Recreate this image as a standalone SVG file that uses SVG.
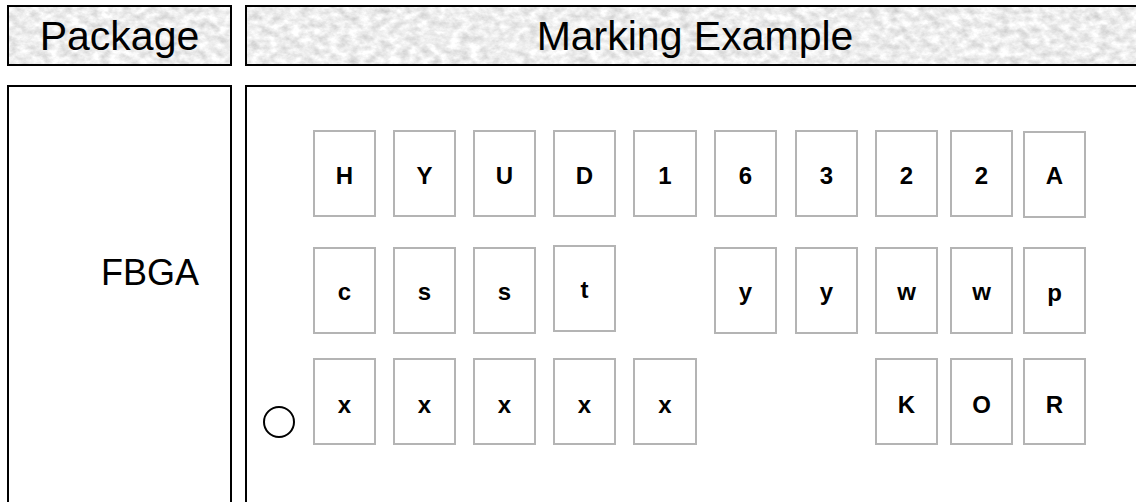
<svg xmlns="http://www.w3.org/2000/svg" width="1136" height="502" viewBox="0 0 1136 502">
<defs>
<filter id="marble" x="0" y="0" width="100%" height="100%" color-interpolation-filters="sRGB">
<feTurbulence type="fractalNoise" baseFrequency="0.1 0.14" numOctaves="4" seed="7" result="n"/>
<feColorMatrix in="n" type="matrix" values="0.3 0 0 0 0.78  0.3 0 0 0 0.78  0.3 0 0 0 0.78  0 0 0 0 1" result="g"/>
<feComposite in="g" in2="SourceGraphic" operator="in"/>
</filter>
</defs>
<style>
.hdr{fill:#ebebeb;}
.frame{fill:none;stroke:#000;stroke-width:2;}
.big{font-family:"Liberation Sans",Arial,sans-serif;font-size:41px;fill:#000;text-anchor:middle;}
.cell rect{fill:#fff;stroke:#b4b4b4;stroke-width:2;}
.cell text{font-family:"Liberation Sans",Arial,sans-serif;font-size:24px;font-weight:bold;fill:#000;text-anchor:middle;}
</style>
<rect width="1136" height="502" fill="#fff"/>
<g id="header-package">
<rect x="8" y="6" width="223" height="59" class="hdr" filter="url(#marble)"/>
<rect x="8" y="6" width="223" height="59" class="frame"/>
<text x="119.5" y="50" class="big">Package</text>
</g>
<g id="header-marking">
<rect x="246" y="6" width="900" height="59" class="hdr" filter="url(#marble)"/>
<rect x="246" y="6" width="900" height="59" class="frame"/>
<text x="695" y="50" class="big">Marking Example</text>
</g>
<g id="package-body">
<rect x="8" y="86" width="223" height="440" class="frame"/>
<text x="150" y="285" class="big" style="font-size:36px">FBGA</text>
</g>
<g id="marking-body">
<rect x="246" y="86" width="900" height="440" class="frame"/>
<circle cx="279" cy="422" r="15" class="frame"/>
</g>
<g id="row1" class="cell">
<rect x="314" y="131" width="61" height="85"/><text x="344.5" y="184">H</text>
<rect x="394" y="131" width="61" height="85"/><text x="424.5" y="184">Y</text>
<rect x="474" y="131" width="61" height="85"/><text x="504.5" y="184">U</text>
<rect x="554" y="131" width="61" height="85"/><text x="584.5" y="184">D</text>
<rect x="634" y="131" width="62" height="85"/><text x="665" y="184">1</text>
<rect x="715" y="131" width="61" height="85"/><text x="745.5" y="184">6</text>
<rect x="796" y="131" width="61" height="85"/><text x="826.5" y="184">3</text>
<rect x="876" y="131" width="61" height="85"/><text x="906.5" y="184">2</text>
<rect x="951" y="131" width="61" height="85"/><text x="981.5" y="184">2</text>
<rect x="1024" y="132" width="61" height="85"/><text x="1054.5" y="184">A</text>
</g>
<g id="row2" class="cell">
<rect x="314" y="248" width="61" height="85"/><text x="344.5" y="300">c</text>
<rect x="394" y="248" width="61" height="85"/><text x="424.5" y="300">s</text>
<rect x="474" y="248" width="61" height="85"/><text x="504.5" y="300">s</text>
<rect x="554" y="246" width="61" height="85"/><text x="584.5" y="298">t</text>
<rect x="715" y="248" width="61" height="85"/><text x="745.5" y="300">y</text>
<rect x="796" y="248" width="61" height="85"/><text x="826.5" y="300">y</text>
<rect x="876" y="248" width="61" height="85"/><text x="906.5" y="300">w</text>
<rect x="951" y="248" width="61" height="85"/><text x="981.5" y="300">w</text>
<rect x="1024" y="248" width="61" height="85"/><text x="1054.5" y="301">p</text>
</g>
<g id="row3" class="cell">
<rect x="314" y="359" width="61" height="85"/><text x="344.5" y="413">x</text>
<rect x="394" y="359" width="61" height="85"/><text x="424.5" y="413">x</text>
<rect x="474" y="359" width="61" height="85"/><text x="504.5" y="413">x</text>
<rect x="554" y="359" width="61" height="85"/><text x="584.5" y="413">x</text>
<rect x="634" y="359" width="62" height="85"/><text x="665" y="413">x</text>
<rect x="876" y="359" width="61" height="85"/><text x="906.5" y="413">K</text>
<rect x="951" y="359" width="61" height="85"/><text x="981.5" y="413">O</text>
<rect x="1024" y="359" width="61" height="85"/><text x="1054.5" y="413">R</text>
</g>
</svg>
